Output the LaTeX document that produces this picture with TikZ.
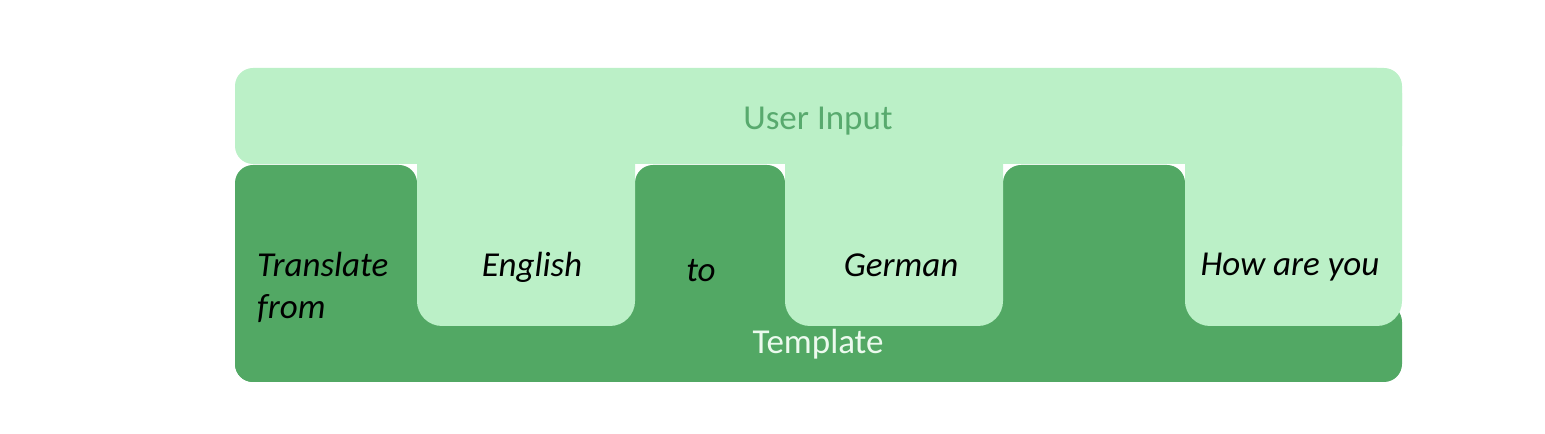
\documentclass[tikz,border=0pt]{standalone}
\usepackage{fontspec}
\setmainfont{Carlito}
\definecolor{inputgreen}{RGB}{187,240,199}
\definecolor{templategreen}{RGB}{82,168,100}
\definecolor{inputtext}{RGB}{88,170,110}
\definecolor{templatetext}{RGB}{236,250,238}
\tikzset{
  word/.style={inner sep=0pt,text=black,font=\fontsize{35bp}{42bp}\selectfont\itshape},
  tag/.style={inner sep=0pt,font=\fontsize{35bp}{42bp}\selectfont},
}
\begin{document}
\begin{tikzpicture}[line join=bevel,]
\useasboundingbox (0bp,0bp) rectangle (1545bp,434bp);
%% template
\fill [templategreen,rounded corners=18bp] (235bp,52bp) rectangle (1402bp,130bp);
\fill [templategreen,rounded corners=18bp] (235bp,52bp) rectangle (417bp,269bp);
\fill [templategreen,rounded corners=18bp] (635bp,52bp) rectangle (785bp,269bp);
\fill [templategreen,rounded corners=18bp] (1003bp,52bp) rectangle (1185bp,269bp);
%% user input
\fill [inputgreen,rounded corners=18bp] (235bp,270bp) rectangle (1402bp,366bp);
\fill [inputgreen,rounded corners=25bp] (417bp,108bp) rectangle (635bp,300bp);
\fill [inputgreen,rounded corners=25bp] (785bp,108bp) rectangle (1003bp,300bp);
\fill [inputgreen,rounded corners=25bp] (1185bp,108bp) rectangle (1402bp,366bp);
%
\node (user_input) at (818bp,304bp) [tag,anchor=base,text=inputtext] {User Input};
\node (template) at (818bp,80bp) [tag,anchor=base,text=templatetext] {Template};
\node (translate_from) at (257bp,115bp) [word,anchor=base west,align=left] {Translate\\from};
\node (english) at (532bp,157bp) [word,anchor=base] {English};
\node (to) at (701bp,152bp) [word,anchor=base] {to};
\node (german) at (901bp,157bp) [word,anchor=base] {German};
\node (how_are_you) at (1290bp,158bp) [word,anchor=base] {How are you};
%
\end{tikzpicture}
\end{document}
